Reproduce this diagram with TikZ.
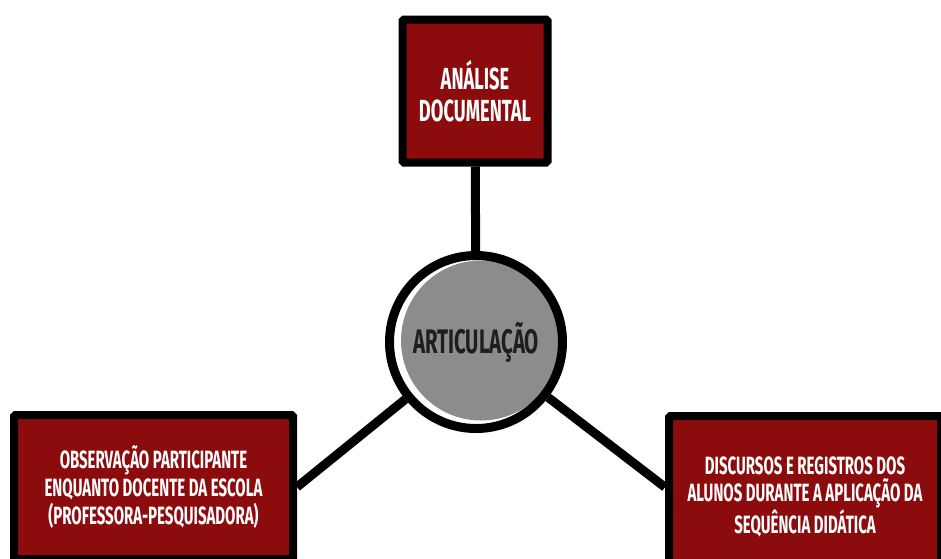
\documentclass[tikz,border=0pt]{standalone}
\usepackage{fontspec}
\newfontfamily\boxfont[FakeStretch=0.6]{Fira Sans}
\usetikzlibrary{positioning,calc}
\definecolor{boxred}{RGB}{140,12,14}
\definecolor{discgray}{RGB}{140,140,140}
\definecolor{inkgray}{RGB}{30,30,30}

\begin{document}
\begin{tikzpicture}[x=1pt,y=-1pt,line width=9pt,
  box/.style={rectangle,draw=black,fill=boxred,line width=8pt,rounded corners=1.5pt,
    text=white,align=center,inner sep=0pt,font=\boxfont\bfseries\fontsize{25}{28}\selectfont},
  disc/.style={circle,draw=black,fill=white,line width=9pt,minimum size=173pt,inner sep=0pt,
    text=inkgray,font=\boxfont\bfseries\fontsize{34}{38}\selectfont,
    path picture={\fill[discgray] ($(path picture bounding box.center)+(5,-1.5)$) circle (80pt);}}]
  \useasboundingbox (0,0) rectangle (941,558);
  \clip (0,0) rectangle (941,558);
  \node[box,minimum width=145pt,minimum height=143pt,font=\boxfont\bfseries\fontsize{30.5}{32}\selectfont]
    (analise) at (475,91) {ANÁLISE\\DOCUMENTAL};
  \node[disc] (artic) at (476,342) {ARTICULAÇÃO};
  \node[box,minimum width=279pt,minimum height=144pt] (obs) at (153.5,487)
    {OBSERVAÇÃO PARTICIPANTE\\ENQUANTO DOCENTE DA ESCOLA\\(PROFESSORA-PESQUISADORA)};
  \node[box,minimum width=272pt,minimum height=162pt,font=\boxfont\bfseries\fontsize{25}{27}\selectfont]
    (disc) at (805,497)
    {DISCURSOS E REGISTROS DOS\\ALUNOS DURANTE A APLICAÇÃO DA\\SEQUÊNCIA DIDÁTICA};
  \draw (analise) -- (artic);
  \draw (artic) -- (obs.east);
  \draw (artic) -- (disc.176);
\end{tikzpicture}
\end{document}
